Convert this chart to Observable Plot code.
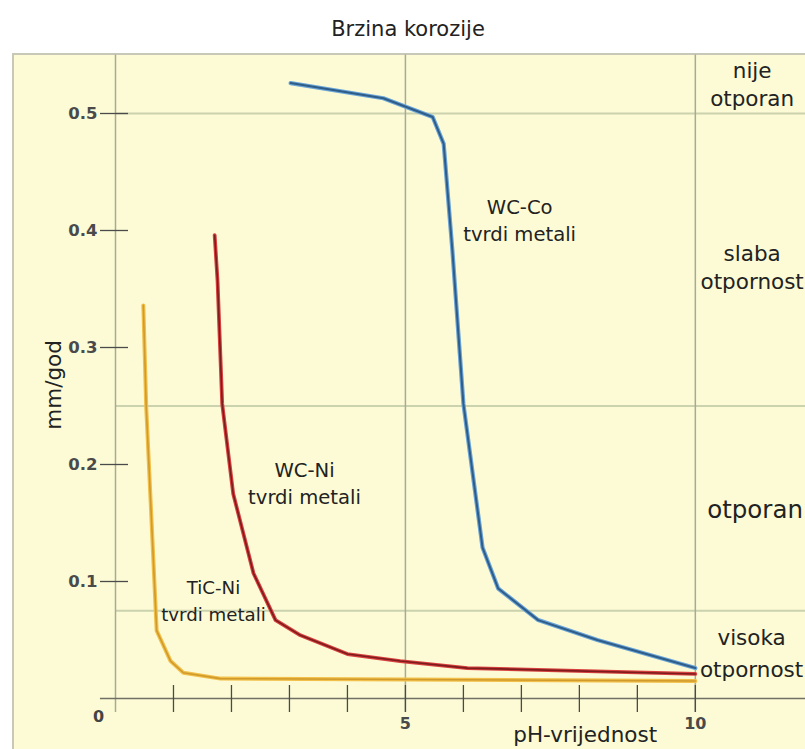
<!DOCTYPE html>
<html><head><meta charset="utf-8">
<script src="https://cdn.jsdelivr.net/npm/d3@7"></script>
<script src="https://cdn.jsdelivr.net/npm/@observablehq/plot@0.6"></script>
<style>
body{margin:0;background:#fff;width:805px;height:749px;overflow:hidden;position:relative;font-family:"DejaVu Sans",sans-serif}
#title{position:absolute;left:11px;top:19px;width:794px;text-align:center;font-size:21px;line-height:21px;color:#222}
#frame{position:absolute;left:12px;top:53px;width:793px;height:696px;background:#fcfbd5;box-shadow:inset 2px 2px 0 #c8c8b8;overflow:hidden}
#frame svg{display:block}
</style></head>
<body>
<div id="title">Brzina korozije</div>
<div id="frame"></div>
<script>
// --- data (pH value, corrosion rate mm/god) ---
const wcCoPH   = [3.02, 4.62, 5.47, 5.66, 5.81, 6.00, 6.33, 6.60, 7.29, 8.31, 10.0];
const wcCoRate = [0.526, 0.513, 0.497, 0.474, 0.383, 0.252, 0.129, 0.094, 0.067, 0.050, 0.026];
const wcNiPH   = [1.71, 1.76, 1.84, 2.03, 2.38, 2.76, 3.19, 4.00, 4.91, 6.07, 10.0];
const wcNiRate = [0.396, 0.357, 0.252, 0.175, 0.107, 0.067, 0.054, 0.038, 0.032, 0.026, 0.021];
const ticNiPH   = [0.48, 0.53, 0.71, 0.95, 1.17, 1.81, 10.0];
const ticNiRate = [0.336, 0.249, 0.058, 0.032, 0.022, 0.017, 0.015];

const xTicks = [1, 2, 3, 4, 5, 6, 7, 8, 9, 10];
const xTickLabels = [5, 10];
const yTicks = [0.1, 0.2, 0.3, 0.4, 0.5];
const gridPH = [0, 5, 10];
const classBounds = [0.5, 0.25, 0.075];

// annotation text and anchor positions (data units)
const curveLabels = [
  {text: "WC-Co\ntvrdi metali", x: 6.97, y: 0.410},
  {text: "WC-Ni\ntvrdi metali", x: 3.26, y: 0.185}
];
const ticLabel = [{text: "TiC-Ni\ntvrdi metali", x: 1.69, y: 0.085}];
const classLabels = [
  {text: "nije\notporan", x: 10.98, y: 0.526},
  {text: "slaba\notpornost", x: 10.98, y: 0.370}
];
const classLabelMain = [{text: "otporan", x: 11.03, y: 0.161}];
const classLabelLow = [{text: "visoka\notpornost", x: 10.97, y: 0.041}];

const X_MIN_AXIS = -0.26, X_MAX = 11.9, Y_MAX = 0.55, Y_EXT = -0.012;

const toRows = (xs, ys) => xs.map((x, i) => ({x, y: ys[i]}));
const wcCo = toRows(wcCoPH, wcCoRate);
const wcNi = toRows(wcNiPH, wcNiRate);
const ticNi = toRows(ticNiPH, ticNiRate);

const tickFont = "DejaVu Sans, sans-serif";

const chart = Plot.plot({
  width: 793, height: 696,
  marginLeft: 103, marginRight: 0, marginTop: 1.5, marginBottom: 51,
  x: {domain: [0, X_MAX], label: null},
  y: {domain: [0, Y_MAX], label: null},
  style: {background: "transparent", fontFamily: "DejaVu Sans, sans-serif", fontSize: "21.5px", color: "#222"},
  marks: [
    Plot.ruleY(classBounds, {x1: 0, x2: X_MAX, stroke: "#cbd2ae", strokeWidth: 2}),
    Plot.ruleX(gridPH, {y1: Y_EXT, y2: Y_MAX, stroke: "#a9a998", strokeWidth: 1.5}),
    Plot.ruleY([0], {x1: X_MIN_AXIS, x2: X_MAX, stroke: "#6f6f66", strokeWidth: 1.3}),
    Plot.axisY(yTicks, {tickSize: 28, dx: 13, tickPadding: 3, tickFormat: d3.format(".1f"),
      fontSize: 16.5, fontFamily: tickFont, fontWeight: "bold", color: "#4a4a4a", strokeWidth: 1.3, label: null}),
    Plot.axisX(xTicks, {tickSize: 27, dy: -13, tickPadding: 5,
      tickFormat: d => xTickLabels.includes(d) ? String(d) : "",
      fontSize: 16, fontFamily: tickFont, fontWeight: "bold", color: "#4a4a4a", strokeWidth: 1.3, label: null}),
    Plot.text(["0"], {x: 0, y: 0, text: d => d, dx: -17, dy: 18, fontSize: 16,
      fontFamily: tickFont, fontWeight: "bold", fill: "#444"}),
    // curves: halo + core
    Plot.line(ticNi, {x: "x", y: "y", stroke: "#f2c04a", strokeWidth: 4}),
    Plot.line(ticNi, {x: "x", y: "y", stroke: "#d09a2c", strokeWidth: 1.6}),
    Plot.line(wcNi, {x: "x", y: "y", stroke: "#d8403f", strokeWidth: 3.8}),
    Plot.line(wcNi, {x: "x", y: "y", stroke: "#7c1c1c", strokeWidth: 1.6}),
    Plot.line(wcCo, {x: "x", y: "y", stroke: "#6aa4d8", strokeWidth: 4.2}),
    Plot.line(wcCo, {x: "x", y: "y", stroke: "#2f5d88", strokeWidth: 2}),
    // annotations
    Plot.text(curveLabels, {x: "x", y: "y", text: "text", fontSize: 19.6, lineHeight: 1.38, fill: "#222"}),
    Plot.text(ticLabel, {x: "x", y: "y", text: "text", fontSize: 18.2, lineHeight: 1.48, fill: "#222"}),
    Plot.text(classLabels, {x: "x", y: "y", text: "text", fontSize: 21.5, lineHeight: 1.3, fill: "#222"}),
    Plot.text(classLabelMain, {x: "x", y: "y", text: "text", fontSize: 24.5, fill: "#222"}),
    Plot.text(classLabelLow, {x: "x", y: "y", text: "text", fontSize: 21.5, lineHeight: 1.49, fill: "#222"}),
    Plot.text(["mm/god"], {x: -1.06, y: 0.268, text: d => d, rotate: -90, fontSize: 21.5, fill: "#222"}),
    Plot.text(["pH-vrijednost"], {x: 8.10, y: -0.0316, text: d => d, fontSize: 21.5, fill: "#222"})
  ]
});
document.getElementById("frame").appendChild(chart);
</script>
</body></html>
